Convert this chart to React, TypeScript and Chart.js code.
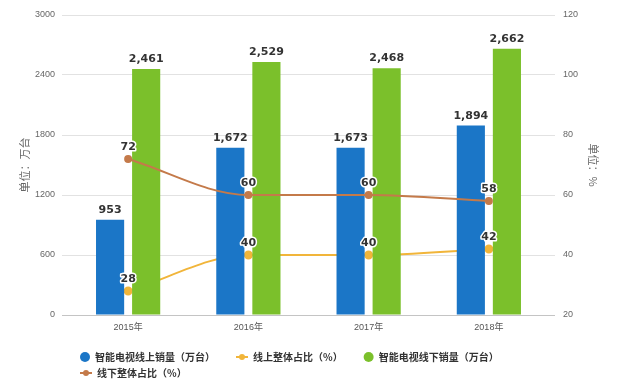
import React, { useEffect, useRef } from "react";
import { Chart, registerables } from "chart.js";
Chart.register(...registerables);

const categories = ["2015年", "2016年", "2017年", "2018年"];
const onlineSales = [953, 1672, 1673, 1894];
const onlineShare = [28, 40, 40, 42];
const offlineSales = [2461, 2529, 2468, 2662];
const offlineShare = [72, 60, 60, 58];
const leftTicks = [0, 600, 1200, 1800, 2400, 3000];
const rightTicks = [20, 40, 60, 80, 100, 120];
const seriesNames = [
  "智能电视线上销量（万台）",
  "线上整体占比（%）",
  "智能电视线下销量（万台）",
  "线下整体占比（%）",
];
const leftTitle = "单位：万台";
const rightTitle = "单位：%";

const BLUE = "#1b76c7";
const GREEN = "#7bc02b";
const ORANGE = "#f1b53a";
const BROWN = "#c47a4a";

const TICK_FONT = "'Liberation Sans', 'Noto Sans CJK SC', sans-serif";
const CJK_FONT = "'Noto Sans CJK SC', 'Liberation Sans', sans-serif";

const valueLabels = {
  id: "valueLabels",
  afterDatasetsDraw(chart: any) {
    const ctx = chart.ctx;
    ctx.save();
    ctx.font = "bold 11px 'DejaVu Sans', sans-serif";
    ctx.textAlign = "center";
    ctx.textBaseline = "alphabetic";
    chart.data.datasets.forEach((ds: any, i: number) => {
      const meta = chart.getDatasetMeta(i);
      meta.data.forEach((el: any, j: number) => {
        const v = ds.data[j];
        if (ds.type === "bar") {
          ctx.fillStyle = "#333";
          ctx.fillText(v.toLocaleString("en-US"), el.x, el.y - 7);
        } else {
          const t = String(v);
          ctx.lineWidth = 3;
          ctx.strokeStyle = "#fff";
          ctx.lineJoin = "round";
          ctx.strokeText(t, el.x, el.y - 9);
          ctx.fillStyle = "#333";
          ctx.fillText(t, el.x, el.y - 9);
        }
      });
    });
    ctx.restore();
  },
};

const customLegend = {
  id: "customLegend",
  afterDraw(chart: any) {
    const ctx = chart.ctx;
    const area = chart.chartArea;
    ctx.save();
    ctx.font = "bold 10px " + CJK_FONT;
    ctx.textBaseline = "middle";
    ctx.textAlign = "left";
    let x = area.left + 12;
    let row = 0;
    const rowY = [chart.height - 28, chart.height - 12];
    chart.data.datasets.forEach((ds: any) => {
      const isLine = ds.type === "line";
      const mw = isLine ? 12 : 10;
      const tw = ctx.measureText(ds.label).width;
      const w = mw + 5 + tw;
      if (x + w > area.right && x > area.left + 12) {
        row++;
        x = area.left + 12;
      }
      const y = rowY[Math.min(row, 1)];
      const color = ds.borderColor;
      if (isLine) {
        ctx.strokeStyle = color;
        ctx.lineWidth = 2;
        ctx.beginPath();
        ctx.moveTo(x, y);
        ctx.lineTo(x + mw, y);
        ctx.stroke();
        ctx.fillStyle = color;
        ctx.beginPath();
        ctx.arc(x + mw / 2, y, 3, 0, Math.PI * 2);
        ctx.fill();
      } else {
        ctx.fillStyle = ds.backgroundColor;
        ctx.beginPath();
        ctx.arc(x + mw / 2, y, 5, 0, Math.PI * 2);
        ctx.fill();
      }
      ctx.fillStyle = "#333";
      ctx.fillText(ds.label, x + mw + 5, y);
      x += w + 21;
    });
    ctx.restore();
  },
};

export default function App() {
  const ref = useRef<HTMLCanvasElement | null>(null);
  useEffect(() => {
    if (!ref.current) return;
    Chart.defaults.font.family = TICK_FONT;
    const chart = new Chart(ref.current, {
      type: "bar",
      data: {
        labels: categories,
        datasets: [
          {
            type: "bar",
            label: seriesNames[0],
            data: onlineSales,
            backgroundColor: BLUE,
            borderColor: BLUE,
            yAxisID: "y",
            order: 2,
            categoryPercentage: 0.6,
            barPercentage: 0.78,
          },
          {
            type: "line",
            label: seriesNames[1],
            data: onlineShare,
            borderColor: ORANGE,
            backgroundColor: ORANGE,
            pointBackgroundColor: ORANGE,
            pointBorderColor: ORANGE,
            pointRadius: 3.5,
            borderWidth: 2,
            cubicInterpolationMode: "monotone",
            yAxisID: "y1",
            order: 3,
          },
          {
            type: "bar",
            label: seriesNames[2],
            data: offlineSales,
            backgroundColor: GREEN,
            borderColor: GREEN,
            yAxisID: "y",
            order: 2,
            categoryPercentage: 0.6,
            barPercentage: 0.78,
          },
          {
            type: "line",
            label: seriesNames[3],
            data: offlineShare,
            borderColor: BROWN,
            backgroundColor: BROWN,
            pointBackgroundColor: BROWN,
            pointBorderColor: BROWN,
            pointRadius: 3,
            borderWidth: 2,
            cubicInterpolationMode: "monotone",
            yAxisID: "y1",
            order: 1,
          },
        ] as any,
      },
      options: {
        animation: false,
        responsive: true,
        maintainAspectRatio: false,
        layout: { padding: { top: 15, bottom: 43, left: 0, right: 0 } },
        plugins: {
          legend: { display: false },
          tooltip: { enabled: false },
        },
        scales: {
          x: {
            offset: true,
            grid: { display: false, drawTicks: false },
            border: { display: true, color: "#c4c4c4" },
            ticks: { color: "#555", font: { size: 9 }, padding: 7 },
            afterFit: (s: any) => {
              s.height = 27;
            },
          },
          y: {
            position: "left",
            min: 0,
            max: 3000,
            afterBuildTicks: (s: any) => {
              s.ticks = leftTicks.map((v) => ({ value: v }));
            },
            grid: {
              color: (c: any) => (c.tick && c.tick.value === 0 ? "#c4c4c4" : "#e2e2e2"),
              tickLength: 6,
              drawTicks: true,
            },
            border: { display: false },
            ticks: {
              color: "#666",
              font: { size: 9 },
              padding: 7,
              callback: (v: any) => String(v),
            },
            title: {
              display: true,
              text: leftTitle,
              color: "#666",
              font: { size: 11, family: CJK_FONT },
              padding: { top: 18, bottom: 0 },
            },
            afterFit: (s: any) => {
              s.width = 68;
            },
          },
          y1: {
            position: "right",
            min: 20,
            max: 120,
            afterBuildTicks: (s: any) => {
              s.ticks = rightTicks.map((v) => ({ value: v }));
            },
            grid: {
              drawOnChartArea: false,
              drawTicks: true,
              tickLength: 6,
              color: (c: any) => (c.tick && c.tick.value === 20 ? "#c4c4c4" : "#e2e2e2"),
            },
            border: { display: false },
            ticks: {
              color: "#666",
              font: { size: 9 },
              padding: 8,
              callback: (v: any) => String(v),
            },
            title: {
              display: true,
              text: rightTitle,
              color: "#666",
              font: { size: 11, family: CJK_FONT },
              padding: { top: 18, bottom: 0 },
            },
            afterFit: (s: any) => {
              s.width = 69;
            },
          },
        },
      } as any,
      plugins: [valueLabels, customLegend],
    });
    return () => chart.destroy();
  }, []);
  return (
    <div style={{ position: "fixed", left: 0, top: 0, width: 618, height: 385, background: "#fff" }}>
      <canvas ref={ref} />
    </div>
  );
}
